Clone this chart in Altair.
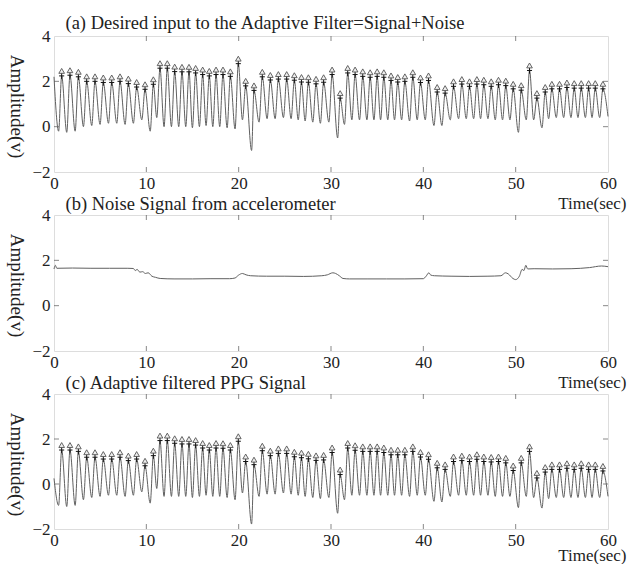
import altair as alt
import pandas as pd

FONT = "Liberation Serif"
TXT = "#222222"
FRAME = "#555555"

# ---------------- data ----------------
peak_t = [0.83, 1.73, 2.64, 3.54, 4.44, 5.34, 6.25, 7.15, 8.05, 8.95,
          9.86, 10.76, 11.48, 12.27, 13.07, 13.86, 14.62, 15.34, 16.10, 16.82,
          17.55, 18.30, 19.10, 19.96, 20.76, 21.66, 22.56, 23.43, 24.30, 25.20,
          26.03, 26.80, 27.55, 28.38, 29.20, 30.12, 30.99, 31.81, 32.61, 33.44,
          34.24, 35.00, 35.72, 36.50, 37.23, 38.00, 38.86, 39.69, 40.56, 41.50,
          42.36, 43.27, 44.17, 45.00, 45.80, 46.55, 47.35, 48.14, 48.93, 49.73,
          50.60, 51.50, 52.30, 53.20, 53.92, 54.75, 55.55, 56.34, 57.10, 57.90,
          58.62, 59.45]

trough_t = [0.50, 1.38, 2.29, 3.19, 4.09, 4.99, 5.90, 6.80, 7.70, 8.60,
            9.51, 10.42, 11.13, 11.92, 12.72, 13.51, 14.27, 14.99, 15.75, 16.47,
            17.20, 17.95, 18.75, 19.61, 20.41, 21.40, 22.21, 23.08, 23.95, 24.85,
            25.68, 26.45, 27.20, 28.03, 28.85, 29.77, 30.72, 31.46, 32.26, 33.09,
            33.89, 34.65, 35.37, 36.15, 36.88, 37.65, 38.51, 39.34, 40.21, 41.15,
            42.01, 42.92, 43.82, 44.65, 45.45, 46.20, 47.00, 47.79, 48.58, 49.38,
            50.30, 51.15, 51.95, 52.85, 53.57, 54.40, 55.20, 55.99, 56.75, 57.55,
            58.27, 59.10]

# (a) desired input = signal + noise
a_peak = [2.24, 2.27, 2.20, 2.00, 2.00, 1.95, 1.95, 2.00, 1.90, 1.75,
          1.65, 1.87, 2.58, 2.58, 2.43, 2.42, 2.42, 2.37, 2.30, 2.24,
          2.30, 2.30, 2.22, 2.78, 1.80, 1.60, 2.20, 2.06, 2.10, 2.10,
          2.05, 1.97, 1.96, 1.89, 1.96, 2.30, 1.26, 2.37, 2.30, 2.22,
          2.18, 2.22, 2.18, 2.04, 1.97, 2.00, 2.18, 1.95, 2.04, 1.53,
          1.48, 1.78, 1.88, 1.78, 1.88, 1.85, 1.78, 1.85, 1.81, 1.67,
          1.61, 2.48, 1.26, 1.53, 1.67, 1.67, 1.73, 1.70, 1.70, 1.70,
          1.70, 1.67]
a_trough = [-0.20, -0.25, -0.20, 0.00, 0.05, 0.10, 0.15, 0.15, 0.10, 0.15,
            0.30, -0.20, 0.40, 0.00, 0.00, 0.00, 0.00, -0.05, 0.00, 0.05,
            0.00, 0.00, -0.05, -0.10, 0.30, -1.05, 0.20, 0.35, 0.35, 0.40,
            0.35, 0.30, 0.25, 0.20, 0.15, 0.20, -0.50, 0.10, 0.30, 0.30,
            0.30, 0.30, 0.30, 0.30, 0.30, 0.30, 0.25, 0.30, 0.30, 0.05,
            0.05, 0.30, 0.35, 0.35, 0.35, 0.35, 0.35, 0.30, 0.30, 0.30,
            -0.25, 0.30, 0.30, -0.05, 0.35, 0.40, 0.40, 0.40, 0.40, 0.40,
            0.40, 0.40]
a_start, a_end = 2.20, 0.45

# (c) adaptive filtered PPG
c_peak = [1.51, 1.51, 1.45, 1.19, 1.19, 1.11, 1.11, 1.19, 1.04, 1.11,
          0.81, 1.26, 1.93, 1.93, 1.81, 1.78, 1.78, 1.73, 1.60, 1.51,
          1.60, 1.59, 1.51, 1.90, 1.00, 0.86, 1.48, 1.26, 1.36, 1.36,
          1.21, 1.17, 1.12, 1.05, 1.07, 1.40, 0.42, 1.60, 1.50, 1.45,
          1.45, 1.45, 1.40, 1.30, 1.30, 1.30, 1.45, 1.20, 1.10, 0.72,
          0.65, 1.00, 1.04, 1.00, 1.10, 1.00, 0.98, 1.00, 0.94, 0.60,
          0.94, 1.45, 0.27, 0.53, 0.65, 0.65, 0.70, 0.65, 0.70, 0.65,
          0.65, 0.58]
c_trough = [-0.95, -1.00, -0.95, -0.70, -0.60, -0.55, -0.50, -0.50, -0.55, -0.50,
            -0.35, -0.85, -0.20, -0.55, -0.55, -0.55, -0.55, -0.60, -0.55, -0.50,
            -0.55, -0.55, -0.60, -0.70, -0.40, -1.78, -0.55, -0.45, -0.45, -0.40,
            -0.45, -0.50, -0.55, -0.60, -0.65, -0.60, -1.30, -0.70, -0.50, -0.50,
            -0.50, -0.50, -0.50, -0.50, -0.50, -0.50, -0.55, -0.50, -0.50, -0.77,
            -0.80, -0.55, -0.50, -0.50, -0.50, -0.50, -0.50, -0.55, -0.55, -0.55,
            -1.05, -0.55, -0.60, -1.07, -0.65, -0.60, -0.60, -0.60, -0.60, -0.60,
            -0.60, -0.60]
c_start, c_end = 0.25, -0.55

# (b) accelerometer noise
noise_t = [0.0, 0.15, 0.3, 2.0, 4.0, 6.0, 8.0, 8.6, 8.8, 9.0, 9.3, 9.6, 9.9, 10.2,
           10.6, 11.0, 11.5, 13.0, 15.0, 17.0, 19.0, 19.6, 20.0, 20.4, 20.8, 21.3,
           23.0, 25.0, 27.0, 29.0, 29.6, 30.2, 30.5, 30.9, 31.3, 32.0, 34.0, 36.0,
           38.0, 40.0, 40.3, 40.6, 40.8, 41.2, 43.0, 45.0, 47.0, 48.4, 48.9, 49.2,
           49.7, 50.0, 50.4, 50.7, 50.9, 51.1, 51.3, 52.0, 54.0, 56.0, 58.0, 59.3,
           60.0]
noise_v = [1.62, 1.78, 1.65, 1.66, 1.65, 1.65, 1.65, 1.64, 1.55, 1.60, 1.48, 1.50,
           1.42, 1.45, 1.30, 1.25, 1.20, 1.18, 1.18, 1.19, 1.19, 1.22, 1.35, 1.42,
           1.36, 1.32, 1.30, 1.30, 1.29, 1.32, 1.36, 1.45, 1.42, 1.32, 1.20, 1.18,
           1.18, 1.18, 1.18, 1.19, 1.30, 1.45, 1.35, 1.32, 1.30, 1.29, 1.30, 1.32,
           1.45, 1.40, 1.20, 1.15, 1.30, 1.60, 1.55, 1.78, 1.62, 1.63, 1.62, 1.63,
           1.68, 1.75, 1.72]

x_ticks = [0, 10, 20, 30, 40, 50, 60]
y_ticks = [-2, 0, 2, 4]
inner_x_ticks = [10, 20, 30, 40, 50]
inner_y_ticks = [0, 2]

titles = ["(a) Desired input to the Adaptive Filter=Signal+Noise",
          "(b) Noise Signal from accelerometer",
          "(c) Adaptive filtered PPG Signal"]


def wave(peaks, troughs, start, end):
    t, v = [0.0], [start]
    for pt, pv, tt, tv in zip(peak_t, peaks, trough_t, troughs):
        t += [tt, pt]
        v += [tv, pv]
    t.append(60.0)
    v.append(end)
    return pd.DataFrame({"t": t, "v": v})


X_SCALE = alt.Scale(domain=[0, 60], nice=False, zero=False)
Y_SCALE = alt.Scale(domain=[-2, 4], nice=False, zero=False)

TEXT_STYLE = dict(titleFont=FONT, titleFontWeight="normal", titleColor=TXT)


def x_axis(title_y):
    return alt.Axis(orient="bottom", values=x_ticks, ticks=False, domain=False, grid=False,
                    labelFlush=False, labelPadding=3, labelFontSize=17,
                    labelFont=FONT, labelColor=TXT,
                    title="Time(sec)", titleX=572, titleY=title_y,
                    titleAlign="right", titleBaseline="middle", titleFontSize=17,
                    **TEXT_STYLE)


def top_axis(title, title_y):
    return alt.Axis(orient="top", labels=False, ticks=False, domain=False, grid=False,
                    title=title, titleX=11, titleY=title_y, titleAlign="left",
                    titleBaseline="middle", titleFontSize=18.5, **TEXT_STYLE)


def y_axis():
    return alt.Axis(orient="left", values=y_ticks, ticks=False, domain=False, grid=False,
                    labelFlush=False, labelPadding=4, labelFontSize=17,
                    labelFont=FONT, labelColor=TXT,
                    title="Amplitude(v)", titleAngle=90, titleX=-38, titleY=70,
                    titleAlign="center", titleBaseline="middle", titleFontSize=19,
                    **TEXT_STYLE)


def xenc(field="t", axis=None):
    return alt.X(f"{field}:Q", scale=X_SCALE, axis=axis)


def yenc(field="v", axis=None):
    return alt.Y(f"{field}:Q", scale=Y_SCALE, axis=axis)


def panel(title, line_df, height, bottom_y, top_y, peaks_df=None):
    layers = [
        alt.Chart(line_df).mark_line(color="#606060", strokeWidth=1,
                                     interpolate="monotone").encode(
            x=xenc(axis=x_axis(bottom_y)), y=yenc(axis=y_axis())),
        alt.Chart(line_df).mark_point(opacity=0, size=1).encode(
            x=xenc(axis=top_axis(title, top_y)), y=yenc()),
    ]
    if peaks_df is not None:
        layers.append(alt.Chart(peaks_df).mark_point(
            shape="M0,-1L0,1M-0.8,0L0.8,0", filled=False, size=40,
            color="#111111", strokeWidth=1, opacity=1).encode(x=xenc(), y=yenc()))
        layers.append(alt.Chart(peaks_df).mark_point(
            shape="triangle-up", filled=True, fill="#eeeeee", stroke="#555555",
            strokeWidth=0.9, size=32, yOffset=-5, opacity=1).encode(x=xenc(), y=yenc()))
    xt = pd.DataFrame({"t": inner_x_ticks})
    yt = pd.DataFrame({"v": inner_y_ticks})
    for yv in (-2, 4):
        layers.append(alt.Chart(xt).mark_tick(orient="vertical", size=10, thickness=1,
                                              color=FRAME, clip=True).encode(
            x=xenc(), y=alt.YDatum(yv, scale=Y_SCALE, axis=None)))
    for xv in (0, 60):
        layers.append(alt.Chart(yt).mark_tick(orient="horizontal", size=10, thickness=1,
                                              color=FRAME, clip=True).encode(
            x=alt.XDatum(xv, scale=X_SCALE, axis=None), y=yenc()))
    return alt.layer(*layers).resolve_axis(x="independent", y="independent").properties(
        width=554, height=height)


df_a = wave(a_peak, a_trough, a_start, a_end)
df_c = wave(c_peak, c_trough, c_start, c_end)
pk_a = pd.DataFrame({"t": peak_t, "v": a_peak})
pk_c = pd.DataFrame({"t": peak_t, "v": c_peak})
df_b = pd.DataFrame({"t": noise_t, "v": noise_v})

pa = panel(titles[0], df_a, 136, 31, -14, pk_a)
pb = panel(titles[1], df_b, 136, 31, -12)
pc = panel(titles[2], df_c, 135, 26, -12, pk_c)

chart = alt.vconcat(pa, pb, pc, spacing=-19).properties(
    padding={"left": 5, "top": 12, "right": 0, "bottom": 0}
).configure_view(stroke=FRAME, strokeWidth=1).configure(background="white")

chart.save("out.html", embed_options={"renderer": "svg", "actions": False})
